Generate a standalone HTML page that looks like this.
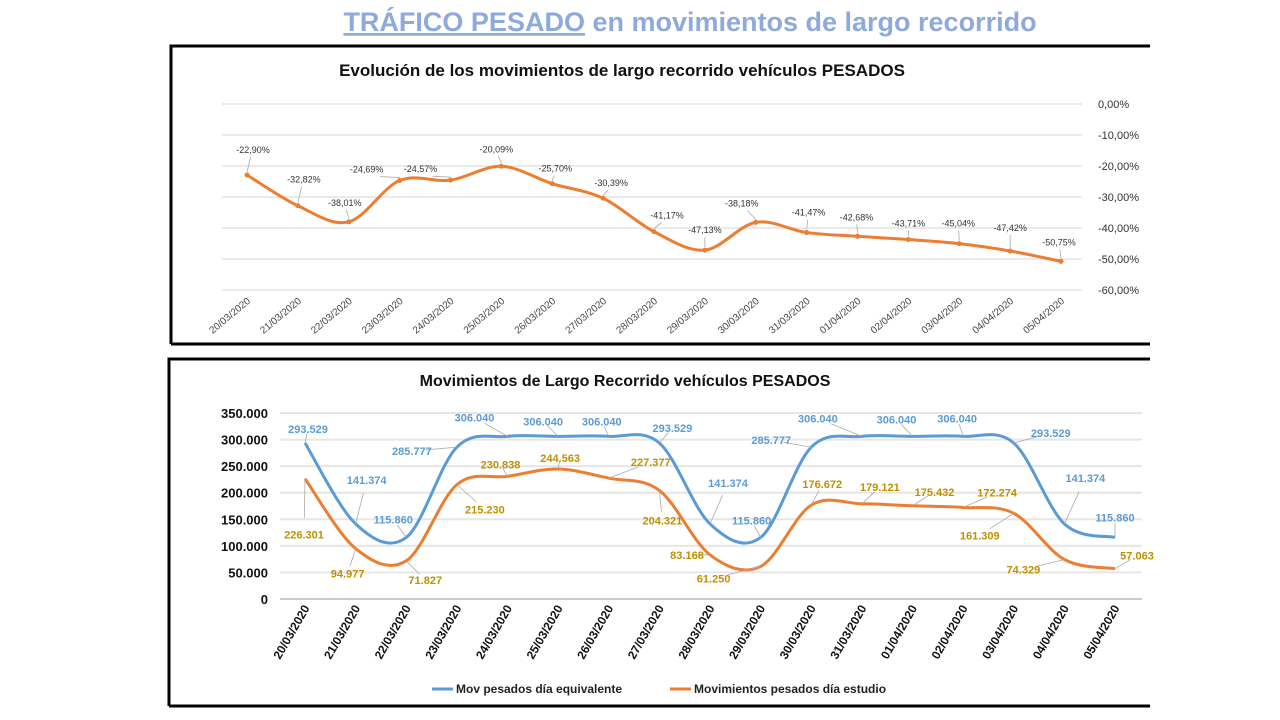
<!DOCTYPE html>
<html><head><meta charset="utf-8"><style>
body{margin:0;width:1280px;height:720px;background:#fff;overflow:hidden;font-family:"Liberation Sans Narrow","Liberation Sans",sans-serif}
svg{position:absolute;left:0;top:0}
</style></head><body>
<svg id="svg" width="1280" height="720">
<text x="690" y="31" text-anchor="middle" font-family="Liberation Sans, sans-serif" font-weight="bold" font-size="27" fill="#8eaadb"><tspan text-decoration="underline">TRÁFICO PESADO</tspan> en movimientos de largo recorrido</text>
<path d="M171,344 V46 H1150" fill="none" stroke="#000" stroke-width="3"/>
<line x1="171" y1="344" x2="1150" y2="344" stroke="#000" stroke-width="3"/>
<path d="M169,706 V359 H1150" fill="none" stroke="#000" stroke-width="3"/>
<line x1="169" y1="706" x2="1150" y2="706" stroke="#000" stroke-width="3"/>
<text x="622" y="76" text-anchor="middle" font-weight="bold" font-size="17" fill="#111">Evolución de los movimientos de largo recorrido vehículos PESADOS</text>
<text x="625" y="386" text-anchor="middle" font-weight="bold" font-size="16" fill="#111">Movimientos de Largo Recorrido vehículos PESADOS</text>
<g id="topG"></g>
<g id="botG"></g>
<line x1="432" y1="689" x2="453" y2="689" stroke="#5b9bd5" stroke-width="3"/>
<text x="456" y="693" font-size="12" font-weight="bold" fill="#222">Mov pesados día equivalente</text>
<line x1="670" y1="689" x2="691" y2="689" stroke="#ed7d31" stroke-width="3"/>
<text x="694" y="693" font-size="12" font-weight="bold" fill="#222">Movimientos pesados día estudio</text>
</svg>
<script>
const dates=["20/03/2020","21/03/2020","22/03/2020","23/03/2020","24/03/2020","25/03/2020","26/03/2020","27/03/2020","28/03/2020","29/03/2020","30/03/2020","31/03/2020","01/04/2020","02/04/2020","03/04/2020","04/04/2020","05/04/2020"];
const pctValues=[-22.90,-32.82,-38.01,-24.69,-24.57,-20.09,-25.70,-30.39,-41.17,-47.13,-38.18,-41.47,-42.68,-43.71,-45.04,-47.42,-50.75];
const pctTicks=[0,-10,-20,-30,-40,-50,-60];
const equivValues=[293529,141374,115860,285777,306040,306040,306040,293529,141374,115860,285777,306040,306040,306040,293529,141374,115860];
const estudioValues=[226301,94977,71827,215230,230838,244563,227377,204321,83168,61250,176672,179121,175432,172274,161309,74329,57063];
const countTicks=[0,50000,100000,150000,200000,250000,300000,350000];
// label placement offsets (layout, not data)
const pctLabelOff=[[6,-22],[6,-23],[-4,-16],[-33,-8],[-30,-8],[-5,-14],[3,-12],[8,-12],[13,-13],[0,-17],[-14,-16],[2,-17],[-1,-16],[0,-13],[-1,-17],[0,-20],[-2,-16]];
const eqOff=[[3,-14],[11,-44],[-13,-18],[-45,4],[-33,-19],[-15,-15],[-7,-15],[13,-15],[18,-41],[-9,-17],[-40,-7],[-44,-18],[-16,-17],[-6,-18],[37,-10],[21,-46],[0,-20]];
const esOff=[[-1,56],[-8,25],[19,19],[28,25],[-7,-12],[2,-11],[42,-16],[3,30],[-23,0],[-47,12],[11,-21],[18,-17],[22,-14],[34,-15],[-34,22],[-41,10],[22,-13]];
const NS="http://www.w3.org/2000/svg";
function mk(parent,tag,attrs){const e=document.createElementNS(NS,tag);for(const k in attrs)e.setAttribute(k,attrs[k]);parent.appendChild(e);return e;}
function smooth(pts){let d="M"+pts[0][0]+","+pts[0][1];for(let i=0;i<pts.length-1;i++){const p0=pts[i-1]||pts[i],p1=pts[i],p2=pts[i+1],p3=pts[i+2]||p2;const t=6;d+=" C"+(p1[0]+(p2[0]-p0[0])/t)+","+(p1[1]+(p2[1]-p0[1])/t)+" "+(p2[0]-(p3[0]-p1[0])/t)+","+(p2[1]-(p3[1]-p1[1])/t)+" "+p2[0]+","+p2[1];}return d;}
function fmt(v){return v.toString().replace(/\B(?=(\d{3})+(?!\d))/g,".");}
function fmtPct(v){return v.toFixed(2).replace(".",",")+"%";}
// TOP
const topG=document.getElementById("topG");
const tx=i=>247+i*(1061-247)/(dates.length-1);
const ty=v=>104-v*3.1;
pctTicks.forEach(t=>{
 const l=mk(topG,"line",{x1:222,x2:1082,y1:ty(t),y2:ty(t),stroke:"#e4e4e4","stroke-width":1.5});
 
 
 const tl=mk(topG,"text",{x:1098,y:ty(t)+4,"font-size":11,fill:"#333"});tl.textContent=fmtPct(t);
 
 
});
const tp=pctValues.map((v,i)=>[tx(i),ty(v)]);
const tline=mk(topG,"path",{d:smooth(tp),fill:"none",stroke:"#ed7d31","stroke-width":3});


tp.forEach((p,i)=>{
 const c=mk(topG,"circle",{cx:p[0],cy:p[1],r:2.5,fill:"#ed7d31"});
 
 
 const o=pctLabelOff[i];
 const ll=mk(topG,"line",{x1:p[0],y1:p[1]-3,x2:p[0]+o[0]*0.6,y2:p[1]+o[1]+4,stroke:"#aaa","stroke-width":0.8});
 
 
 const t=mk(topG,"text",{x:p[0]+o[0],y:p[1]+o[1],"font-size":9,fill:"#333","text-anchor":"middle"});t.textContent=fmtPct(pctValues[i]);
 
 
 const xl=mk(topG,"text",{x:0,y:0,"font-size":10,fill:"#444","text-anchor":"end",transform:"translate("+(tx(i)+4)+",302) rotate(-40)"});xl.textContent=dates[i];
 
 
});
// BOTTOM
const botG=document.getElementById("botG");
const bx=i=>305+i*(1115-305)/(dates.length-1);
const by=v=>599-v*186/350000;
countTicks.forEach(t=>{
 const l=mk(botG,"line",{x1:280,x2:1142,y1:by(t),y2:by(t),stroke:t===0?"#ccc":"#e6e6e6","stroke-width":2});
 
 
 const tl=mk(botG,"text",{x:268,y:by(t)+5,"font-size":13,"font-weight":"bold",fill:"#111","text-anchor":"end"});tl.textContent=fmt(t);
 
 
});
function series(vals,color,labColor,off,name){
 const pts=vals.map((v,i)=>[bx(i),by(v)]);
 const p=mk(botG,"path",{d:smooth(pts),fill:"none",stroke:color,"stroke-width":3});
 
 
 pts.forEach((q,i)=>{
  const o=off[i];
  const ll=mk(botG,"line",{x1:q[0],y1:q[1],x2:q[0]+o[0]*0.7,y2:q[1]+o[1]*0.7,stroke:"#aaa","stroke-width":0.8});
  
  
  const t=mk(botG,"text",{x:q[0]+o[0],y:q[1]+o[1]+4,"font-size":11,"font-weight":"bold",fill:labColor,"text-anchor":"middle"});t.textContent=fmt(vals[i]);
  
  
 });
}
series(equivValues,"#5b9bd5","#5b9bd5",eqOff,"equivalente");
series(estudioValues,"#ed7d31","#bf9000",esOff,"estudio");
dates.forEach((d,i)=>{
 const xl=mk(botG,"text",{x:0,y:0,"font-size":12,"font-weight":"bold",fill:"#111","text-anchor":"end",transform:"translate("+(bx(i)+5)+",608) rotate(-60)"});xl.textContent=d;
 
 
});
</script>
</body></html>
